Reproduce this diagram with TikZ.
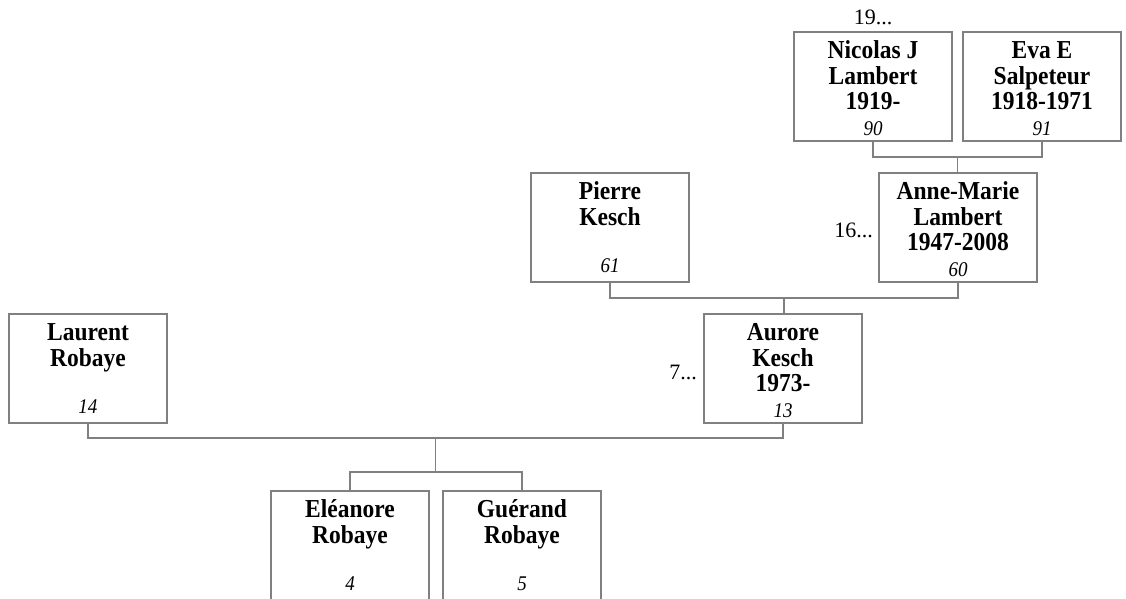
\documentclass[tikz,border=0pt]{standalone}
\usepackage{fontspec}
\usepackage{graphicx}
\setmainfont{Liberation Serif}
\usetikzlibrary{calc}
\definecolor{linegray}{RGB}{128,128,128}
% #1 names, #2 number, #3 box height (unscaled), #4 space under number baseline (unscaled)
\newcommand{\pcontent}[4]{\scalebox{1}[1.1]{\parbox[t][#3][t]{158pt}{\centering\fontsize{23.5}{23.2}\selectfont\bfseries\rule{0pt}{24.1pt}#1\par\vfill{\fontsize{19}{20}\selectfont\mdseries\itshape #2\rule[-#4]{0pt}{#4}}\par}}}
\tikzset{
  person/.style={draw=linegray, line width=1.2pt, inner sep=0pt, outer sep=0pt, anchor=north west},
  conn/.style={draw=linegray, line width=1.2pt},
  ellip/.style={font=\fontsize{22}{24}\selectfont, inner sep=0pt}
}
\begin{document}
\begin{tikzpicture}[x=1pt,y=-1pt]
\useasboundingbox (0,0) rectangle (1126,599);
% generation 1
\node[person] (nic) at (794,32) {\pcontent{Nicolas J\\Lambert\\1919-}{90}{99.1pt}{8.2pt}};
\node[person] (eva) at (963,32) {\pcontent{Eva E\\Salpeteur\\1918-1971}{91}{99.1pt}{8.2pt}};
% generation 2
\node[person] (pie) at (531,173) {\pcontent{Pierre\\Kesch}{61}{99.1pt}{8.2pt}};
\node[person] (ann) at (879,173) {\pcontent{Anne-Marie\\Lambert\\1947-2008}{60}{99.1pt}{8.2pt}};
% generation 3
\node[person] (lau) at (9,314) {\pcontent{Laurent\\Robaye}{14}{99.1pt}{8.2pt}};
\node[person] (aur) at (704,314) {\pcontent{Aurore\\Kesch\\1973-}{13}{99.1pt}{8.2pt}};
% children
\node[person] (ele) at (271,491) {\pcontent{El\'eanore\\Robaye}{4}{109.1pt}{18.2pt}};
\node[person] (gue) at (443,491) {\pcontent{Gu\'erand\\Robaye}{5}{109.1pt}{18.2pt}};
% ellipsis labels
\node[ellip, anchor=base] (l19) at ($(nic.north)+(0,-7)$) {19...};
\node[ellip, anchor=base east] (l16) at ($(ann.west)+(-6,9.5)$) {16...};
\node[ellip, anchor=base east] (l7) at ($(aur.west)+(-7,10.5)$) {7...};
% connectors
\coordinate (j1) at ($(nic.south)!0.5!(eva.south)+(0,16)$);
\draw[conn] (nic.south) |- (j1) -| (eva.south);
\draw[conn] (j1) -- (j1 |- ann.north);
\coordinate (j2) at ($(pie.south)!0.5!(ann.south)+(0,16)$);
\draw[conn] (pie.south) |- (j2) -| (ann.south);
\draw[conn] (j2) -- (j2 |- aur.north);
\coordinate (j3) at ($(lau.south)!0.5!(aur.south)+(0,15)$);
\draw[conn] (lau.south) |- (j3) -| (aur.south);
\coordinate (j4) at ($(j3)+(0,34)$);
\draw[conn] (j3) -- (j4);
\draw[conn] (ele.north) |- (j4) -| (gue.north);
\end{tikzpicture}
\end{document}
